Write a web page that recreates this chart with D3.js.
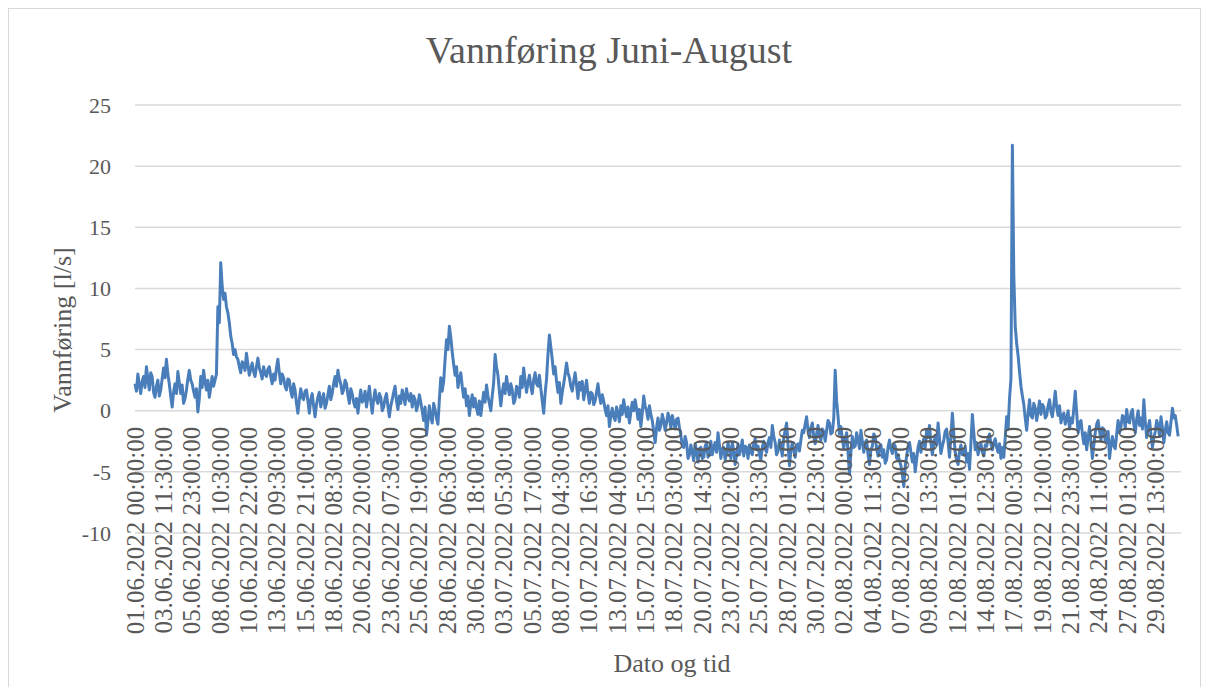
<!DOCTYPE html>
<html>
<head>
<meta charset="utf-8">
<script src="https://cdn.jsdelivr.net/npm/d3@7"></script>
<style>
  body { margin: 0; background: #fff; }
  text { font-family: "Liberation Serif", "DejaVu Serif", serif; fill: #595959; }
</style>
</head>
<body>
<div id="chart"></div>
<script>
  // flow readings, one value every 6 half-hour steps (3 h)
  var values = [
    2.2, 1.6, 3.0, 2.1, 1.4, 2.4, 2.8, 1.9, 3.6, 2.6, 1.7, 3.1, 2.8, 1.5, 1.1, 2.0, 2.5, 1.2, 1.7, 2.6,
    3.5, 2.7, 4.2, 3.0, 2.2, 1.2, 0.3, 1.5, 2.2, 1.4, 3.2, 2.3, 1.4, 2.1, 0.6, 1.0, 1.7, 2.6, 3.3, 2.5,
    2.2, 1.6, 1.1, 1.8, -0.1, 1.0, 2.8, 1.9, 3.3, 2.4, 1.7, 2.5, 1.1, 1.9, 2.8, 2.0, 2.5, 3.0, 8.5, 7.2,
    12.1, 10.2, 9.1, 9.6, 8.5, 8.0, 7.2, 6.1, 5.5, 4.6, 5.0, 4.4, 4.2, 3.6, 3.1, 4.0, 3.9, 3.3, 4.7, 3.8,
    2.9, 3.4, 3.9, 3.2, 2.8, 3.6, 4.3, 3.5, 3.1, 2.6, 3.6, 3.0, 2.8, 3.4, 3.6, 2.8, 2.2, 3.0, 2.5, 3.5,
    4.2, 3.1, 2.2, 3.0, 2.7, 2.0, 1.7, 2.6, 2.5, 1.6, 1.1, 2.2, 1.7, 0.6, -0.2, 0.9, 1.8, 1.1, 0.9, 1.6,
    1.7, 0.8, -0.2, 0.9, 1.4, 0.4, -0.5, 0.5, 1.1, 1.5, 0.3, 0.9, 1.4, 0.2, 0.6, 1.3, 2.0, 0.9, 1.4, 2.2,
    2.8, 2.0, 3.3, 2.6, 2.2, 1.4, 1.7, 2.5, 2.2, 1.3, 0.6, 1.8, 1.4, 0.7, 0.3, 1.0, -0.2, 0.8, 1.7, 0.7,
    0.9, 1.6, 0.3, 1.1, 2.0, 0.8, -0.2, 0.9, 1.7, 0.9, 0.6, 1.4, 1.1, 0.0, 0.3, 1.0, 1.4, 0.4, -0.5, 0.4,
    0.9, 1.5, 2.0, 0.8, 0.1, 1.2, 0.6, 1.7, 1.2, 0.5, 1.8, 1.1, 0.8, 1.4, 0.3, 1.2, 0.9, 0.0, 0.5, 1.3,
    0.7, 0.0, -0.8, 0.3, -2.0, -0.9, 0.4, -0.5, -1.0, 0.6, 0.1, -0.6, -1.1, 0.9, 2.7, 1.6, 2.4, 4.2, 5.8, 5.0,
    6.9, 6.0, 4.8, 3.8, 2.9, 3.6, 1.9, 2.6, 3.1, 2.0, 1.1, 1.8, 0.4, 1.2, -0.4, 0.6, 1.3, 0.3, 1.0, 0.2,
    -0.3, 0.8, -0.4, 0.6, 1.5, 0.7, 2.1, 1.2, 0.6, 0.0, 1.2, 2.3, 4.6, 3.6, 2.9, 1.6, 0.4, 1.5, 2.2, 1.4,
    2.8, 1.9, 1.3, 2.2, 1.7, 0.6, 0.9, 2.0, 1.8, 1.1, 2.8, 1.9, 3.5, 2.4, 1.5, 2.3, 2.9, 2.0, 1.4, 2.5,
    3.1, 2.2, 2.0, 2.9, 1.8, 0.8, -0.2, 1.4, 2.6, 4.6, 6.2, 5.2, 4.2, 3.0, 3.6, 2.4, 1.5, 2.3, 0.6, 1.5,
    2.2, 3.0, 3.9, 3.1, 2.7, 2.0, 1.6, 2.4, 3.1, 2.1, 1.0, 2.3, 1.7, 2.4, 0.9, 1.7, 2.5, 1.4, 0.6, 1.5,
    1.4, 0.5, 0.8, 1.5, 2.2, 1.2, 0.6, 1.3, 0.8, 0.1, -0.4, 0.4, -1.3, -0.4, 0.2, -0.5, -0.8, 0.3, -0.2, -0.9,
    0.4, -0.3, 0.9, 0.1, -0.5, 0.3, -1.0, -0.1, 0.7, 0.0, 0.9, 0.2, -0.7, 0.1, -1.3, -0.2, 1.2, 0.4, 0.0, -0.7,
    0.4, -0.3, -0.8, -1.7, -2.6, -1.4, -0.6, -1.6, -1.2, -0.3, -0.8, -1.6, -1.0, -0.2, -0.6, -1.4, -0.4, -0.9, -1.5, -0.7,
    -0.6, -1.4, -2.0, -2.9, -3.0, -2.1, -2.6, -3.9, -3.6, -2.8, -3.4, -4.1, -2.7, -3.3, -4.2, -3.1, -3.0, -3.9, -3.8, -2.9,
    -2.6, -3.8, -3.4, -2.5, -3.6, -3.0, -2.6, -3.4, -1.8, -2.8, -3.9, -3.1, -3.0, -4.0, -3.5, -2.6, -3.2, -3.9, -2.6, -3.3,
    -4.4, -3.5, -2.7, -3.6, -3.1, -2.4, -3.7, -2.9, -3.0, -3.9, -2.8, -3.4, -3.6, -2.7, -2.3, -3.2, -2.9, -3.6, -4.0, -3.0,
    -2.5, -3.1, -3.4, -2.6, -2.2, -3.0, -1.2, -2.1, -2.6, -3.6, -3.3, -2.4, -3.0, -3.7, -2.2, -1.6, -1.0, -2.8, -4.5, -3.3,
    -2.6, -3.2, -3.8, -2.9, -2.7, -3.3, -2.4, -1.6, -1.8, -1.1, -0.5, -1.6, -2.2, -1.4, -1.0, -2.1, -2.7, -1.9, -1.2, -2.0,
    -2.4, -1.5, -1.7, -2.5, -1.6, -0.8, -1.0, -1.9, -1.8, -0.6, 3.3, 0.8, -0.5, -1.9, -1.3, -2.3, -3.1, -2.3, -1.8, -3.4,
    -5.2, -3.4, -2.1, -3.0, -2.9, -1.8, -2.4, -3.1, -1.6, -2.5, -3.4, -2.6, -2.4, -3.6, -4.4, -3.2, -2.9, -1.9, -2.1, -3.1,
    -3.7, -2.9, -2.8, -3.8, -3.2, -4.3, -4.0, -3.0, -2.4, -3.1, -3.5, -2.7, -2.9, -3.9, -3.6, -4.1, -4.5, -5.2, -6.2, -4.6,
    -3.7, -2.9, -2.6, -3.4, -4.2, -3.5, -5.0, -4.0, -3.0, -2.5, -3.4, -2.7, -2.3, -3.0, -1.6, -2.2, -1.2, -2.6, -3.6, -2.7,
    -2.0, -2.8, -1.0, -2.3, -3.5, -2.9, -2.4, -1.7, -1.5, -2.6, -3.8, -2.1, -0.2, -1.9, -3.4, -4.1, -4.4, -3.3, -2.8, -3.6,
    -3.6, -2.9, -4.2, -3.5, -4.8, -2.6, -0.3, -1.8, -3.2, -2.6, -3.6, -3.0, -2.7, -3.4, -3.7, -2.8, -2.9, -2.2, -1.9, -2.7,
    -3.2, -2.6, -2.3, -3.0, -3.4, -2.7, -3.9, -3.0, -3.8, -2.2, -0.5, -1.5, 1.0, 2.6, 21.7, 11.0, 6.9, 5.5, 4.5, 3.2,
    2.0, 1.2, 0.5, -0.6, -1.6, -0.2, 0.9, -0.4, -0.6, 0.6, 0.2, -0.8, 0.0, 0.8, -0.3, 0.5, 0.3, -0.6, -0.4, 0.4,
    0.9, -0.1, -0.5, 0.5, 1.6, 0.3, -0.4, 0.4, -1.0, -0.4, -0.2, -1.1, -0.7, 0.0, -1.5, -0.6, -1.0, 0.2, 1.6, -0.2,
    -1.8, -1.0, -0.8, -1.9, -2.7, -1.8, -3.2, -2.2, -1.3, -2.6, -3.9, -2.8, -1.8, -1.1, -0.8, -1.7, -2.4, -1.4, -1.5, -2.5,
    -2.6, -1.7, -3.9, -2.8, -2.1, -2.9, -3.1, -1.9, -0.8, -1.8, -1.3, -0.4, -0.5, -1.4, 0.1, -0.9, -1.0, -0.2, 0.1, -1.1,
    -1.8, -0.7, 0.0, -1.2, -0.6, -1.5, 0.9, -0.9, -2.2, -1.4, -0.8, -2.0, -3.0, -2.2, -1.7, -0.8, -1.2, -2.1, -0.5, -1.4,
    -2.6, -1.6, -0.9, -1.8, -2.0, -0.9, 0.2, -0.6, -0.4, -1.2, -2.1
  ];
  var step = 6;         // categories between two stored values
  var nCats = 4392;     // half-hour categories on the axis
  var labelEvery = 119; // excel shows every 119th category

  var xLabels = [
    "01.06.2022 00:00:00", "03.06.2022 11:30:00", "05.06.2022 23:00:00", "08.06.2022 10:30:00",
    "10.06.2022 22:00:00", "13.06.2022 09:30:00", "15.06.2022 21:00:00", "18.06.2022 08:30:00",
    "20.06.2022 20:00:00", "23.06.2022 07:30:00", "25.06.2022 19:00:00", "28.06.2022 06:30:00",
    "30.06.2022 18:00:00", "03.07.2022 05:30:00", "05.07.2022 17:00:00", "08.07.2022 04:30:00",
    "10.07.2022 16:30:00", "13.07.2022 04:00:00", "15.07.2022 15:30:00", "18.07.2022 03:00:00",
    "20.07.2022 14:30:00", "23.07.2022 02:00:00", "25.07.2022 13:30:00", "28.07.2022 01:00:00",
    "30.07.2022 12:30:00", "02.08.2022 00:00:00", "04.08.2022 11:30:00", "07.08.2022 02:00:00",
    "09.08.2022 13:30:00", "12.08.2022 01:00:00", "14.08.2022 12:30:00", "17.08.2022 00:30:00",
    "19.08.2022 12:00:00", "21.08.2022 23:30:00", "24.08.2022 11:00:00", "27.08.2022 01:30:00",
    "29.08.2022 13:00:00"
  ];
  var yTicks = [-10, -5, 0, 5, 10, 15, 20, 25];

  var width = 1209, height = 687;
  var svg = d3.select("#chart").append("svg")
      .attr("width", width)
      .attr("height", height);

  svg.append("rect")
      .attr("x", 8.5).attr("y", 8.5)
      .attr("width", 1192).attr("height", 700)
      .attr("fill", "none")
      .attr("stroke", "#d9d9d9");

  var x = d3.scaleLinear().domain([0, nCats]).range([135, 1181]);
  var y = d3.scaleLinear().domain([-10, 25]).range([533, 105]);

  // gridlines
  svg.append("g")
    .selectAll("line")
    .data(yTicks)
    .enter().append("line")
      .attr("x1", x(0)).attr("x2", x(nCats))
      .attr("y1", function(d) { return y(d); })
      .attr("y2", function(d) { return y(d); })
      .attr("stroke", "#d9d9d9")
      .attr("stroke-width", 1.5);

  svg.append("g")
    .selectAll("text")
    .data(yTicks)
    .enter().append("text")
      .attr("x", 111)
      .attr("y", function(d) { return y(d); })
      .attr("dy", "0.35em")
      .attr("text-anchor", "end")
      .attr("font-size", "22px")
      .text(function(d) { return d; });

  var line = d3.line()
      .x(function(d, i) { return x(i * step); })
      .y(function(d) { return y(d); });

  svg.append("path")
      .datum(values)
      .attr("d", line)
      .attr("fill", "none")
      .attr("stroke", "#4a7ebb")
      .attr("stroke-width", 3)
      .attr("stroke-linejoin", "round");

  // category labels, rotated, hanging below the zero line
  svg.append("g")
    .selectAll("text")
    .data(xLabels)
    .enter().append("text")
      .attr("transform", function(d, i) {
        return "translate(" + x(i * labelEvery) + "," + (y(0) + 16) + ") rotate(-90)";
      })
      .attr("dy", "0.35em")
      .attr("text-anchor", "end")
      .attr("font-size", "25px")
      .text(function(d) { return d; });

  svg.append("text")
      .attr("x", 609).attr("y", 50)
      .attr("dy", "0.35em")
      .attr("text-anchor", "middle")
      .attr("font-size", "38px")
      .text("Vannføring Juni-August");

  svg.append("text")
      .attr("transform", "translate(62,330) rotate(-90)")
      .attr("dy", "0.35em")
      .attr("text-anchor", "middle")
      .attr("font-size", "26px")
      .text("Vannføring [l/s]");

  svg.append("text")
      .attr("x", 672).attr("y", 663)
      .attr("dy", "0.35em")
      .attr("text-anchor", "middle")
      .attr("font-size", "26px")
      .text("Dato og tid");
</script>
</body>
</html>
